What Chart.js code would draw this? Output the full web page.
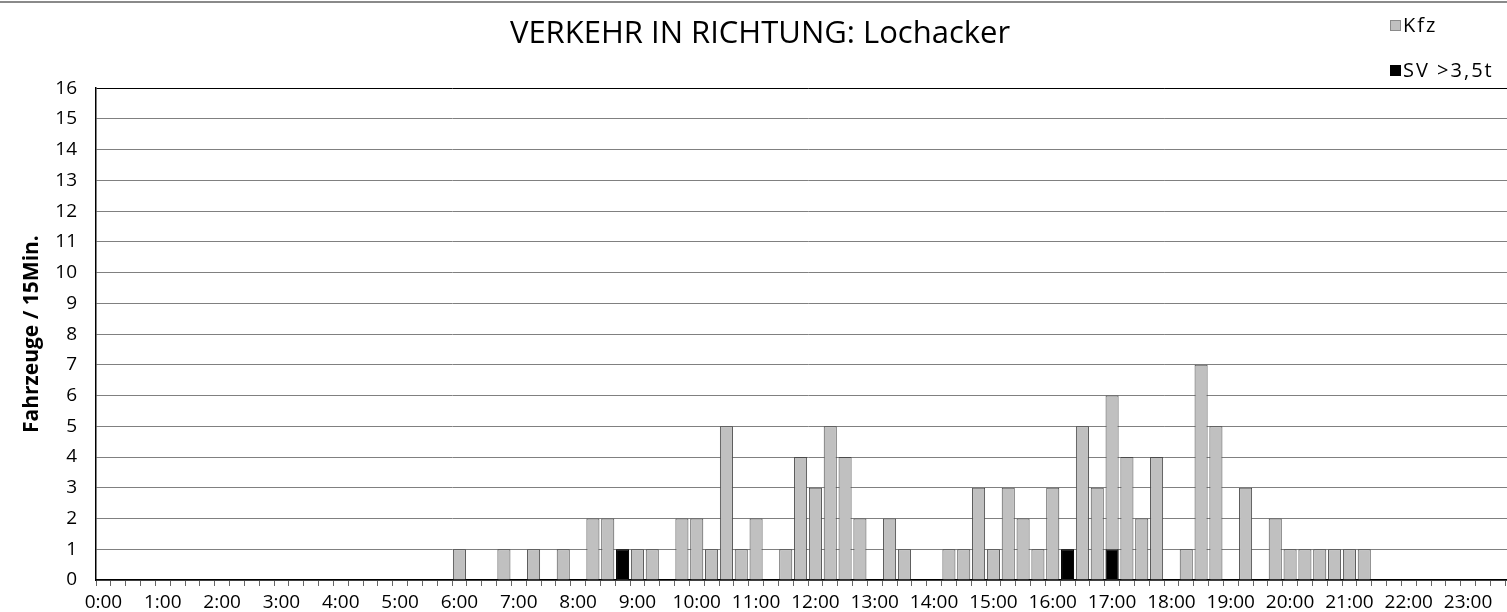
<!DOCTYPE html>
<html>
<head>
<meta charset="utf-8">
<script src="https://cdn.jsdelivr.net/npm/chart.js@4"></script>
<style>
  html, body { margin: 0; padding: 0; background: #fff; overflow: hidden; }
  #wrap { width: 1525px; height: 612px; }
</style>
</head>
<body>
<div id="wrap"><canvas id="chart" width="1525" height="612"></canvas></div>
<script>
// 15-minute intervals, 0:00 .. 23:45
const slots = []
for (let h = 0; h < 24; h++) {
  for (let q = 0; q < 60; q += 15) slots.push(h + ':' + String(q).padStart(2, '0'))
}

const kfz = [
  0, 0, 0, 0,  0, 0, 0, 0,  0, 0, 0, 0,  0, 0, 0, 0,  0, 0, 0, 0,  0, 0, 0, 0,   // 0-5
  1, 0, 0, 1,  0, 1, 0, 1,  0, 2, 2, 1,  1, 1, 0, 2,  2, 1, 5, 1,  2, 0, 1, 4,   // 6-11
  3, 5, 4, 2,  0, 2, 1, 0,  0, 1, 1, 3,  1, 3, 2, 1,  3, 1, 5, 3,  6, 4, 2, 4,   // 12-17
  0, 1, 7, 5,  0, 3, 0, 2,  1, 1, 1, 1,  1, 1, 0, 0,  0, 0, 0, 0,  0, 0, 0, 0    // 18-23
]

const sv = [
  0, 0, 0, 0,  0, 0, 0, 0,  0, 0, 0, 0,  0, 0, 0, 0,  0, 0, 0, 0,  0, 0, 0, 0,
  0, 0, 0, 0,  0, 0, 0, 0,  0, 0, 0, 1,  0, 0, 0, 0,  0, 0, 0, 0,  0, 0, 0, 0,
  0, 0, 0, 0,  0, 0, 0, 0,  0, 0, 0, 0,  0, 0, 0, 0,  0, 1, 0, 0,  1, 0, 0, 0,
  0, 0, 0, 0,  0, 0, 0, 0,  0, 0, 0, 0,  0, 0, 0, 0,  0, 0, 0, 0,  0, 0, 0, 0
]

const FONT = '"Open Sans", Lato, sans-serif'

const legendItems = [
  { label: 'Kfz', fill: '#c0c0c0', stroke: '#8a8a8a', y: 26 },
  { label: 'SV >3,5t', fill: '#000000', stroke: '#000000', y: 71 }
]

const decor = {
  id: 'decor',
  beforeDraw(chart) {
    const ctx = chart.ctx
    ctx.save()
    ctx.strokeStyle = '#8a8a8a'
    ctx.lineWidth = 2
    ctx.beginPath()
    ctx.moveTo(0, 2)
    ctx.lineTo(chart.width, 2)
    ctx.stroke()
    ctx.restore()
  },
  afterDraw(chart) {
    const ctx = chart.ctx
    ctx.save()
    ctx.font = '20px ' + FONT
    ctx.letterSpacing = '2px'
    ctx.textBaseline = 'middle'
    legendItems.forEach(item => {
      ctx.fillStyle = item.fill
      ctx.fillRect(1390, item.y - 6, 11, 11)
      ctx.strokeStyle = item.stroke
      ctx.lineWidth = 1
      ctx.strokeRect(1390.5, item.y - 5.5, 10, 10)
      ctx.fillStyle = '#000'
      ctx.fillText(item.label, 1403, item.y)
    })
    ctx.restore()
  }
}

new Chart(document.getElementById('chart'), {
  type: 'bar',
  data: {
    labels: slots,
    datasets: [{
      label: 'Kfz',
      data: kfz,
      backgroundColor: '#c0c0c0',
      borderColor: '#4a4a4a',
      borderWidth: 1,
      order: 1
    }, {
      label: 'SV >3,5t',
      data: sv,
      backgroundColor: '#000000',
      borderColor: '#000000',
      borderWidth: 1,
      order: 0
    }]
  },
  options: {
    responsive: false,
    animation: false,
    layout: { padding: { top: 0, right: 5, left: 0, bottom: 0 } },
    datasets: {
      bar: { grouped: false, categoryPercentage: 1.0, barPercentage: 0.88 }
    },
    plugins: {
      legend: { display: false },
      tooltip: { enabled: false },
      title: {
        display: true,
        text: 'VERKEHR IN RICHTUNG: Lochacker',
        color: '#000',
        font: { family: FONT, size: 31, weight: 'normal' },
        padding: { top: 16, bottom: 35 }
      }
    },
    scales: {
      x: {
        offset: true,
        afterFit: s => { s.height = 32 },
        border: { color: '#000', width: 1.5 },
        grid: { offset: true, drawOnChartArea: false, drawTicks: true, tickLength: 6, color: '#666' },
        ticks: {
          autoSkip: false,
          maxRotation: 0,
          padding: 5,
          color: '#000',
          font: { family: FONT, size: 19 },
          callback: (v, i) => i % 4 === 0 ? slots[i] : ''
        }
      },
      y: {
        min: 0,
        max: 16,
        afterFit: s => { s.width = 96 },
        border: { color: '#000', width: 1.5 },
        grid: {
          drawTicks: false,
          color: c => c.tick.value === 16 ? '#000' : '#808080'
        },
        ticks: {
          stepSize: 1,
          padding: 19,
          color: '#000',
          font: { family: FONT, size: 19 }
        },
        title: {
          display: true,
          text: 'Fahrzeuge / 15Min.',
          color: '#000',
          font: { family: FONT, size: 21, weight: 'bold' },
          padding: { top: 19, bottom: 0 }
        }
      }
    }
  },
  plugins: [decor]
})
</script>
</body>
</html>
